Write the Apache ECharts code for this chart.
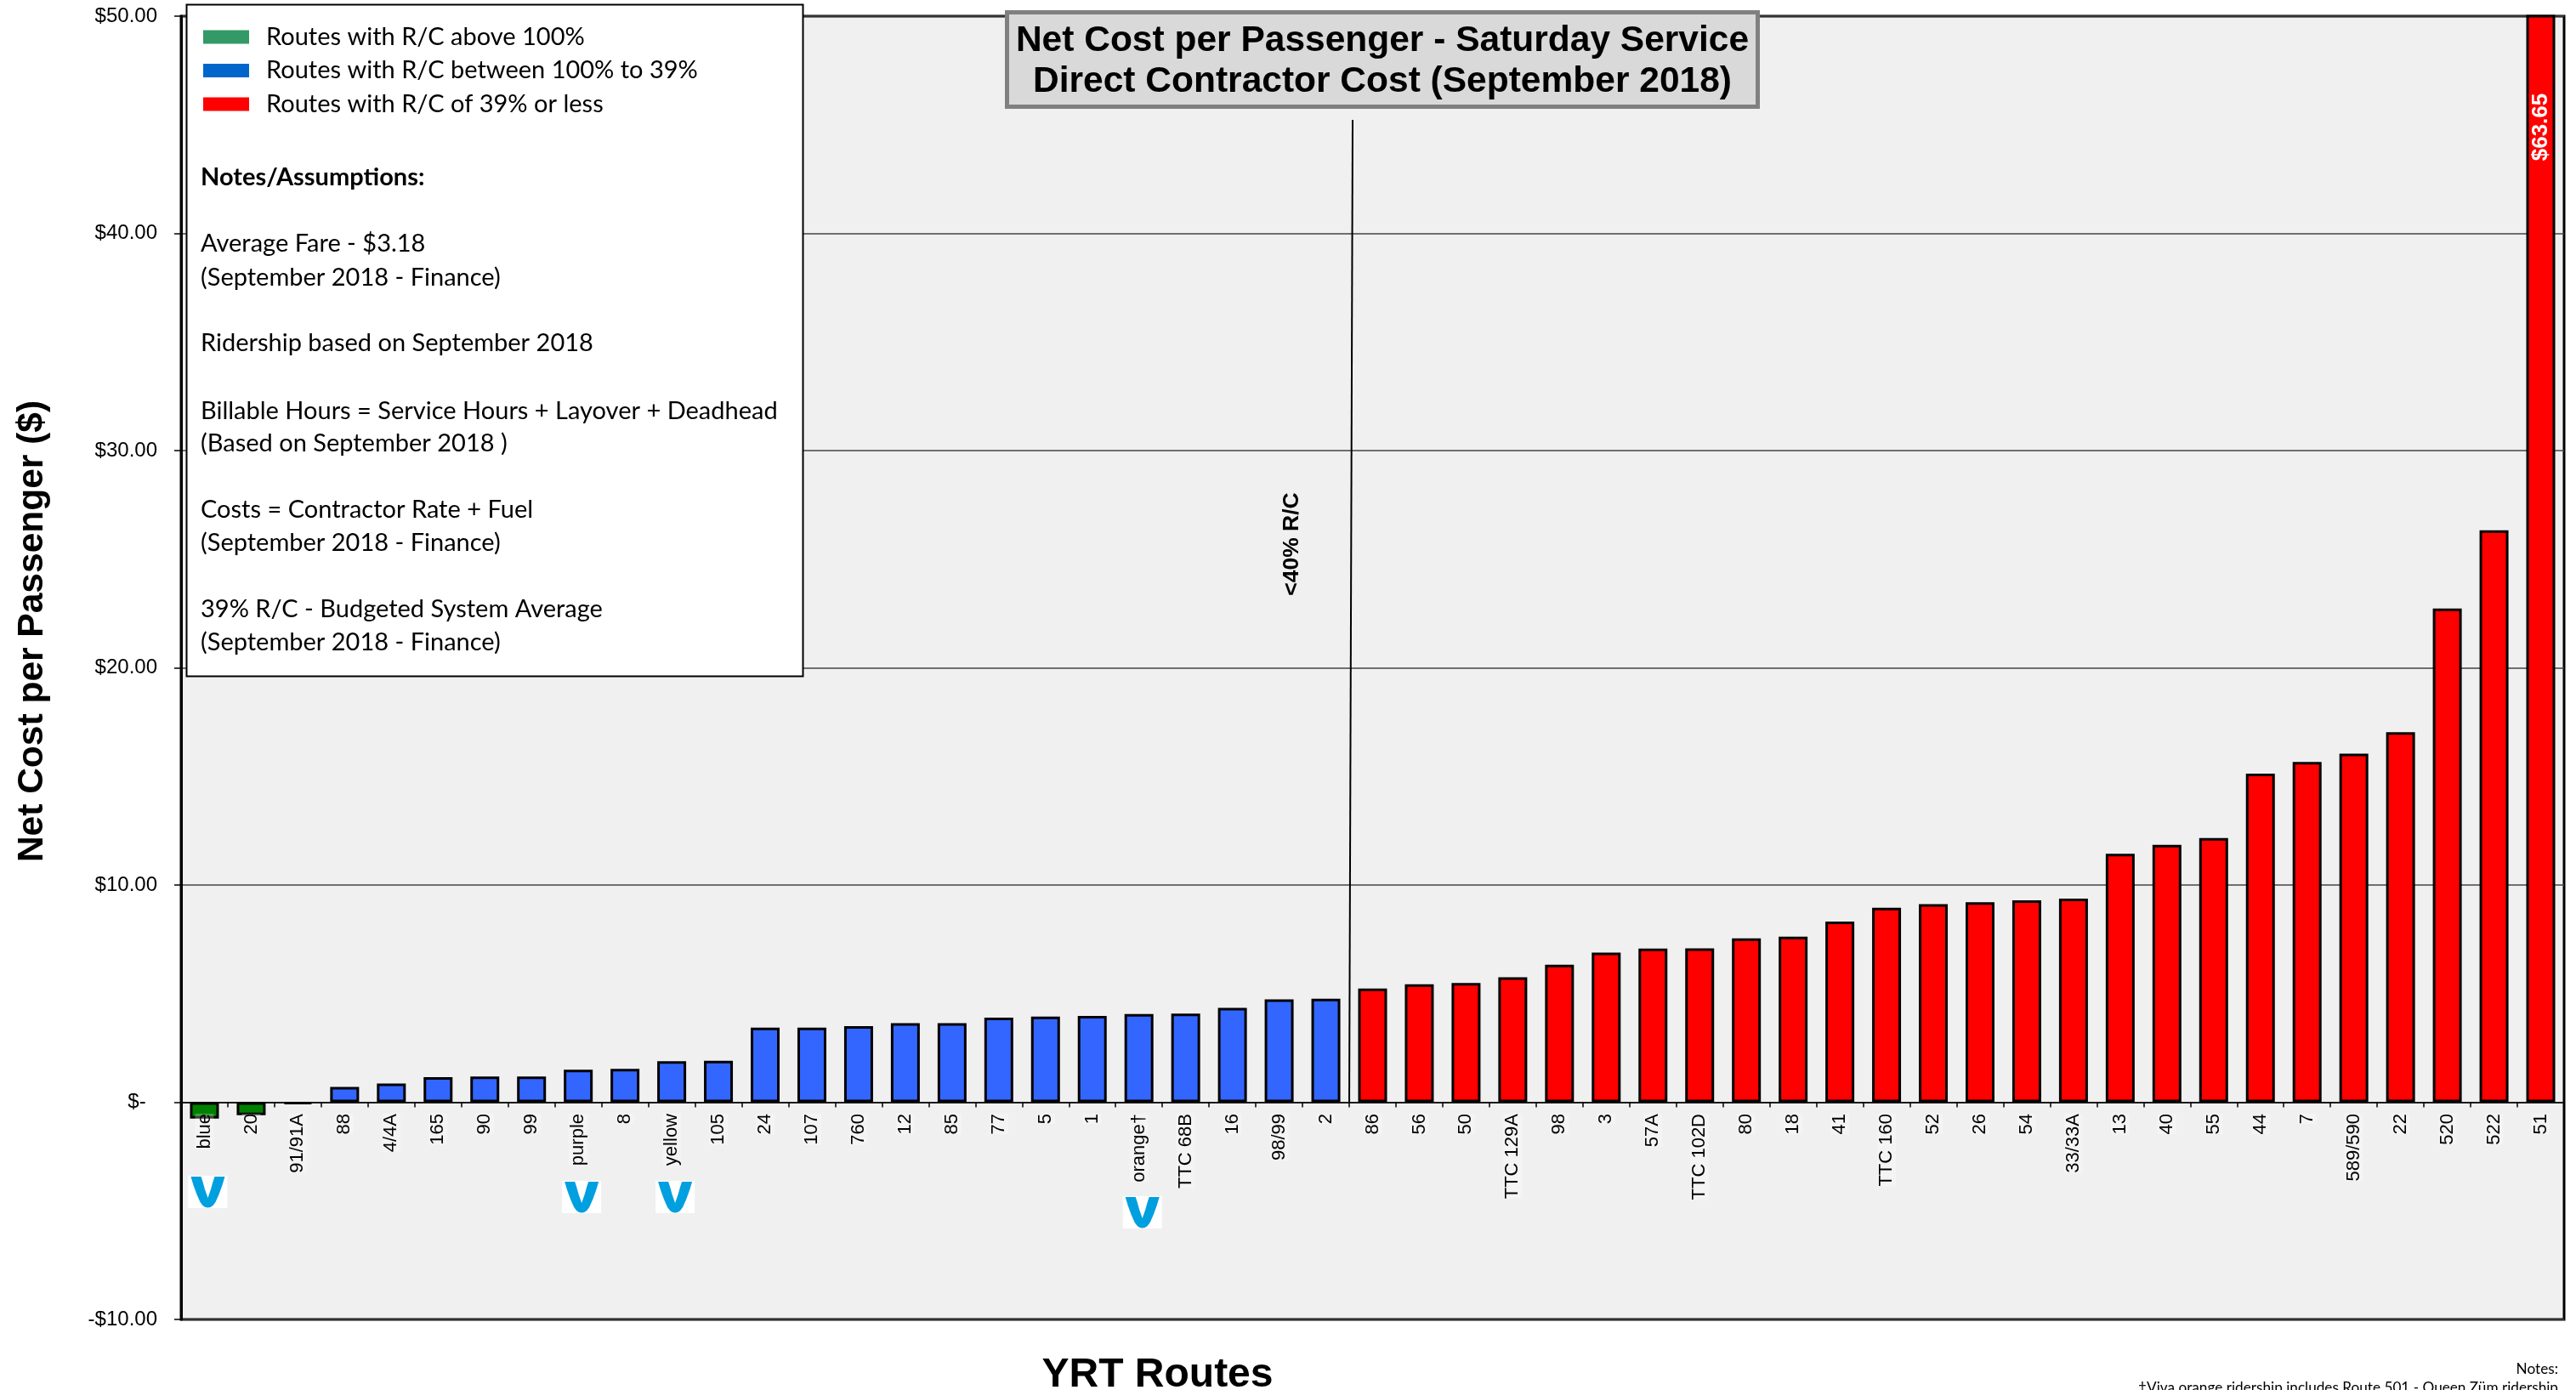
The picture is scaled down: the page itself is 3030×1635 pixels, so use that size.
<!DOCTYPE html>
<html><head><meta charset="utf-8">
<style>html,body{margin:0;padding:0;background:#fff}#c{width:3030px;height:1635px}</style>
<script src="https://cdn.jsdelivr.net/npm/echarts@6/dist/echarts.min.js"></script>
</head><body><div id="c"></div>
<script>
const categories = ['blue','20','91/91A','88','4/4A','165','90','99','purple','8','yellow','105','24','107','760','12','85','77','5','1','orange†','TTC 68B','16','98/99','2','86','56','50','TTC 129A','98','3','57A','TTC 102D','80','18','41','TTC 160','52','26','54','33/33A','13','40','55','44','7','589/590','22','520','522','51'];
const aboveFull = [-0.75,-0.6,-0.08];
const midRange = [0.7,0.86,1.15,1.18,1.18,1.5,1.54,1.89,1.91,3.43,3.43,3.5,3.64,3.64,3.89,3.94,3.97,4.06,4.08,4.34,4.74,4.77];
const lowRange = [5.23,5.43,5.49,5.75,6.33,6.89,7.07,7.08,7.54,7.62,8.32,8.95,9.12,9.21,9.30,9.37,11.44,11.85,12.16,15.13,15.67,16.05,17.04,22.73,26.33,63.65];
const logoRoutes = [[0,1383],[8,1389],[10,1389],[20,1407]];
const noteLines = [['Average Fare - $3.18',287],['(September 2018 - Finance)',327],['Ridership based on September 2018',404],['Billable Hours = Service Hours + Layover + Deadhead',484],['(Based on September 2018 )',522],['Costs = Contractor Rate + Fuel',600],['(September 2018 - Finance)',639],['39% R/C - Budgeted System Average',717],['(September 2018 - Finance)',756]];
const nA = aboveFull.length, nB = midRange.length;
const pad = (arr, before) => categories.map((_, i) => (i >= before && i < before + arr.length) ? arr[i - before] : null);
const SANS = '"Liberation Sans", Arial, sans-serif', NOTE = 'Lato, "Open Sans", sans-serif';
const chart = echarts.init(document.getElementById('c'), null, {renderer:'canvas'});
const barBase = {type:'bar', barWidth:34, barGap:'-100%', z:2};
const stroke = c => ({color:c, borderColor:'#000', borderWidth:3});
chart.setOption({
  animation:false,
  backgroundColor:'#fff',
  title:{text:'Net Cost per Passenger - Saturday Service\nDirect Contractor Cost (September 2018)', left:1615, top:14, z:8,
    backgroundColor:'#d9d9d9', borderColor:'#808080', borderWidth:5, padding:[10,11,6,11], textAlign:'center',
    textStyle:{fontFamily:SANS, fontWeight:'bold', fontSize:42.5, lineHeight:48, color:'#000'}},
  legend:{show:true, orient:'vertical', left:239, top:29, padding:0, itemWidth:54, itemHeight:16, itemGap:10.5, z:10,
    selectedMode:false, icon:'rect',
    textStyle:{fontFamily:NOTE, fontSize:29, color:'#000', padding:[0,0,0,15]},
    data:[{name:'Routes with R/C above 100%',itemStyle:{color:'#339966',borderWidth:0}},
          {name:'Routes with R/C between 100% to 39%',itemStyle:{color:'#0066cc',borderWidth:0}},
          {name:'Routes with R/C of 39% or less',itemStyle:{color:'#ff0000',borderWidth:0}}]},
  grid:{left:213, top:19, width:2803, height:1533, outerBoundsMode:'none', show:true, backgroundColor:'#f0f0f0', borderColor:'#000', borderWidth:3, containLabel:false},
  xAxis:{type:'category', data:categories, z:3, name:'YRT Routes', nameLocation:'middle', nameGap:42,
    nameTextStyle:{fontFamily:SANS, fontWeight:'bold', fontSize:48, color:'#000', padding:[0,506,0,0]},
    axisLine:{onZero:true, lineStyle:{color:'#000', width:1.5}},
    axisTick:{show:true, alignWithLabel:false, length:6, lineStyle:{color:'#000', width:1.5}},
    splitLine:{show:false},
    axisLabel:{interval:0, rotate:90, margin:-242, fontFamily:SANS, fontSize:22, color:'#000', backgroundColor:'rgba(255,255,255,0.25)'}},
  yAxis:{type:'value', min:-10, max:50, interval:10, name:'Net Cost per Passenger ($)', nameLocation:'middle', nameGap:153, nameRotate:90,
    nameTextStyle:{fontFamily:SANS, fontWeight:'bold', fontSize:42.5, color:'#000', padding:[0,0,0,86]},
    axisLine:{show:true, onZero:false, lineStyle:{color:'#000', width:3}},
    axisTick:{show:true, length:8, lineStyle:{color:'#000', width:1.5}},
    splitLine:{show:true, lineStyle:{color:'#444', width:1.5}},
    axisLabel:{margin:28, fontFamily:SANS, fontSize:24, color:'#000',
      formatter:v => v === 0 ? '$-  ' : (v < 0 ? '-$' + (-v).toFixed(2) : '$' + v.toFixed(2))}},
  series:[
    Object.assign({}, barBase, {name:'Routes with R/C above 100%', data:pad(aboveFull,0), itemStyle:stroke('#008000')}),
    Object.assign({}, barBase, {name:'Routes with R/C between 100% to 39%', data:pad(midRange,nA), itemStyle:stroke('#3366ff')}),
    Object.assign({}, barBase, {name:'Routes with R/C of 39% or less', data:pad(lowRange,nA+nB).map(v => v === 63.65 ? {value:v,
        label:{show:true, position:'insideTop', distance:135, rotate:90, align:'center', verticalAlign:'middle', offset:[3,0], formatter:'$63.65', color:'#fff', fontFamily:SANS, fontWeight:'bold', fontSize:26}} : v),
      itemStyle:stroke('#ff0000')})
  ],
  graphic:[]
});
const px = i => chart.convertToPixel({xAxisIndex:0}, i);
const py = v => chart.convertToPixel({yAxisIndex:0}, v);
const divider = (px(24) + px(25)) / 2;
const vShape = [[0,0],[12,0],[14,6],[16.5,15],[20,25],[23.5,15],[26,6],[28,0],[40,0],[37,10],[33,21],[29,30],[26,34],[23,36],[20,36.5],[17,36],[14,34],[11,30],[7,21],[3,10]];
const els = [];
els.push({type:'rect', z:5, shape:{x:219.5,y:5.5,width:725,height:790}, style:{fill:'#fff', stroke:'#000', lineWidth:2}});
els.push({type:'text', z:11, style:{x:236,y:209,text:'Notes/Assumptions:',fontFamily:NOTE,fontWeight:'bold',fontSize:29,fill:'#000',verticalAlign:'middle'}});
noteLines.forEach(([t,y]) => els.push({type:'text', z:11, style:{x:236,y:y,text:t,fontFamily:NOTE,fontSize:29,fill:'#000',verticalAlign:'middle'}}));
els.push({type:'line', z:4, shape:{x1:divider+4,y1:141,x2:divider,y2:py(0)}, style:{stroke:'#000',lineWidth:2}});
els.push({type:'text', z:4, rotation:Math.PI/2, x:1520, y:640, style:{x:0,y:0,text:'<40% R/C',fontFamily:SANS,fontWeight:'bold',fontSize:26.5,fill:'#000',align:'center',verticalAlign:'middle'}});
logoRoutes.forEach(([i,y]) => {
  const cx = px(i) + 4;
  els.push({type:'rect', z:4, shape:{x:cx-23,y:y,width:46,height:38}, style:{fill:'#fff'}});
  els.push({type:'polygon', z:4, shape:{points:vShape.map(([a,b]) => [cx-20+a, y+1+b])}, style:{fill:'#009fdf'}});
});
els.push({type:'text', z:4, style:{x:3009,y:1610,text:'Notes:',fontFamily:NOTE,fontSize:17.2,fill:'#000',align:'right',verticalAlign:'middle'}});
els.push({type:'text', z:4, style:{x:3009,y:1632,text:'†Viva orange ridership includes Route 501 - Queen Züm ridership',fontFamily:NOTE,fontSize:17.2,fill:'#000',align:'right',verticalAlign:'middle'}});
chart.setOption({graphic:els});
</script></body></html>
